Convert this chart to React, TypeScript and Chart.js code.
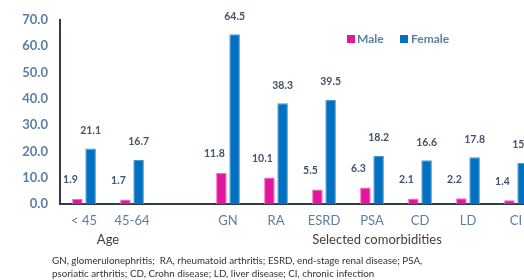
import React, { useEffect, useRef } from "react";
import { Chart, registerables } from "chart.js";

Chart.register(...registerables);

const categories = ["< 45", "45-64", "", "GN", "RA", "ESRD", "PSA", "CD", "LD", "CI"];
const maleValues = [1.9, 1.7, null, 11.8, 10.1, 5.5, 6.3, 2.1, 2.2, 1.4];
const femaleValues = [21.1, 16.7, null, 64.5, 38.3, 39.5, 18.2, 16.6, 17.8, 15.7];
const seriesNames = ["Male", "Female"];
const groupTitles = ["Age", "Selected comorbidities"];
const footnoteLines = [
  "GN, glomerulonephritis;  RA, rheumatoid arthritis; ESRD, end-stage renal disease; PSA,",
  "psoriatic arthritis; CD, Crohn disease; LD, liver disease; CI, chronic infection",
];

const MALE = "#E0179B";
const FEMALE = "#0070C0";
const TICK = "#5A7EA6";
const LABEL = "#44546A";
const DARK = "#404040";
const AXIS = "#2F3B4C";
const FONT = "Lato, 'Open Sans', sans-serif";

const extrasPlugin = {
  id: "extras",
  afterDatasetsDraw(chart: any) {
    const ctx = chart.ctx;
    ctx.save();
    ctx.font = `bold 10.5px ${FONT}`;
    ctx.fillStyle = LABEL;
    ctx.textAlign = "center";
    ctx.textBaseline = "middle";
    chart.data.datasets.forEach((ds: any, di: number) => {
      const meta = chart.getDatasetMeta(di);
      meta.data.forEach((el: any, i: number) => {
        const v = ds.data[i];
        if (v == null) return;
        const dx = di === 0 ? -7 : 0;
        const dy = di === 0 ? 19 : 18;
        ctx.fillText(Number(v).toFixed(1), el.x + dx, el.y - dy);
      });
    });

    // legend
    const ly = 39;
    ctx.font = `bold 12px ${FONT}`;
    ctx.textAlign = "left";
    ctx.fillStyle = MALE;
    ctx.fillRect(347, ly - 4, 8, 8);
    ctx.fillStyle = TICK;
    ctx.fillText(seriesNames[0], 357, ly);
    ctx.fillStyle = FEMALE;
    ctx.fillRect(400, ly - 4, 8, 8);
    ctx.fillStyle = TICK;
    ctx.fillText(seriesNames[1], 411, ly);

    // group titles
    const x = chart.scales.x;
    ctx.font = `13px ${FONT}`;
    ctx.fillStyle = DARK;
    ctx.textAlign = "center";
    const ageX = (x.getPixelForValue(0) + x.getPixelForValue(1)) / 2;
    const comX = (x.getPixelForValue(3) + x.getPixelForValue(9)) / 2 + 5;
    ctx.fillText(groupTitles[0], ageX, 240);
    ctx.fillText(groupTitles[1], comX, 240);

    // footnote
    ctx.font = `9.8px ${FONT}`;
    ctx.textAlign = "left";
    ctx.fillStyle = "#333333";
    ctx.fillText(footnoteLines[0], 52, 261);
    ctx.fillText(footnoteLines[1], 52, 274);
    ctx.restore();
  },
};

export default function App() {
  const ref = useRef<HTMLCanvasElement>(null);
  useEffect(() => {
    if (!ref.current) return;
    const chart = new Chart(ref.current, {
      type: "bar",
      data: {
        labels: categories,
        datasets: [
          {
            label: seriesNames[0],
            data: maleValues,
            backgroundColor: MALE,
            borderColor: "#EA6CBE",
            borderWidth: 1,
            categoryPercentage: 0.55,
            barPercentage: 0.8,
          },
          {
            label: seriesNames[1],
            data: femaleValues,
            backgroundColor: FEMALE,
            borderColor: "#4C98D6",
            borderWidth: 1,
            categoryPercentage: 0.55,
            barPercentage: 0.8,
          },
        ],
      },
      options: {
        responsive: false,
        maintainAspectRatio: false,
        animation: false,
        layout: { padding: { top: 18, left: 0, right: 1, bottom: 0 } },
        plugins: { legend: { display: false }, tooltip: { enabled: false } },
        scales: {
          y: {
            min: 0,
            max: 70,
            ticks: {
              stepSize: 10,
              padding: 12,
              color: TICK,
              font: { family: FONT, size: 13, weight: "bold" },
              callback: (v: any) => Number(v).toFixed(1),
            },
            grid: { display: false, drawTicks: false },
            border: { color: AXIS, width: 2 },
            afterFit: (s: any) => {
              s.width = 60;
            },
          },
          x: {
            ticks: {
              padding: 9,
              color: TICK,
              font: { family: FONT, size: 13 },
              autoSkip: false,
              maxRotation: 0,
            },
            grid: { display: false, drawTicks: false },
            border: { color: AXIS, width: 2 },
            afterFit: (s: any) => {
              s.height = 76;
            },
          },
        },
      },
      plugins: [extrasPlugin],
    } as any);
    return () => chart.destroy();
  }, []);
  return (
    <div
      style={{
        position: "fixed",
        left: 0,
        top: 0,
        width: 524,
        height: 280,
        overflow: "hidden",
        background: "#fff",
      }}
    >
      <canvas ref={ref} width={541} height={280} style={{ width: 541, height: 280, display: "block" }} />
    </div>
  );
}
